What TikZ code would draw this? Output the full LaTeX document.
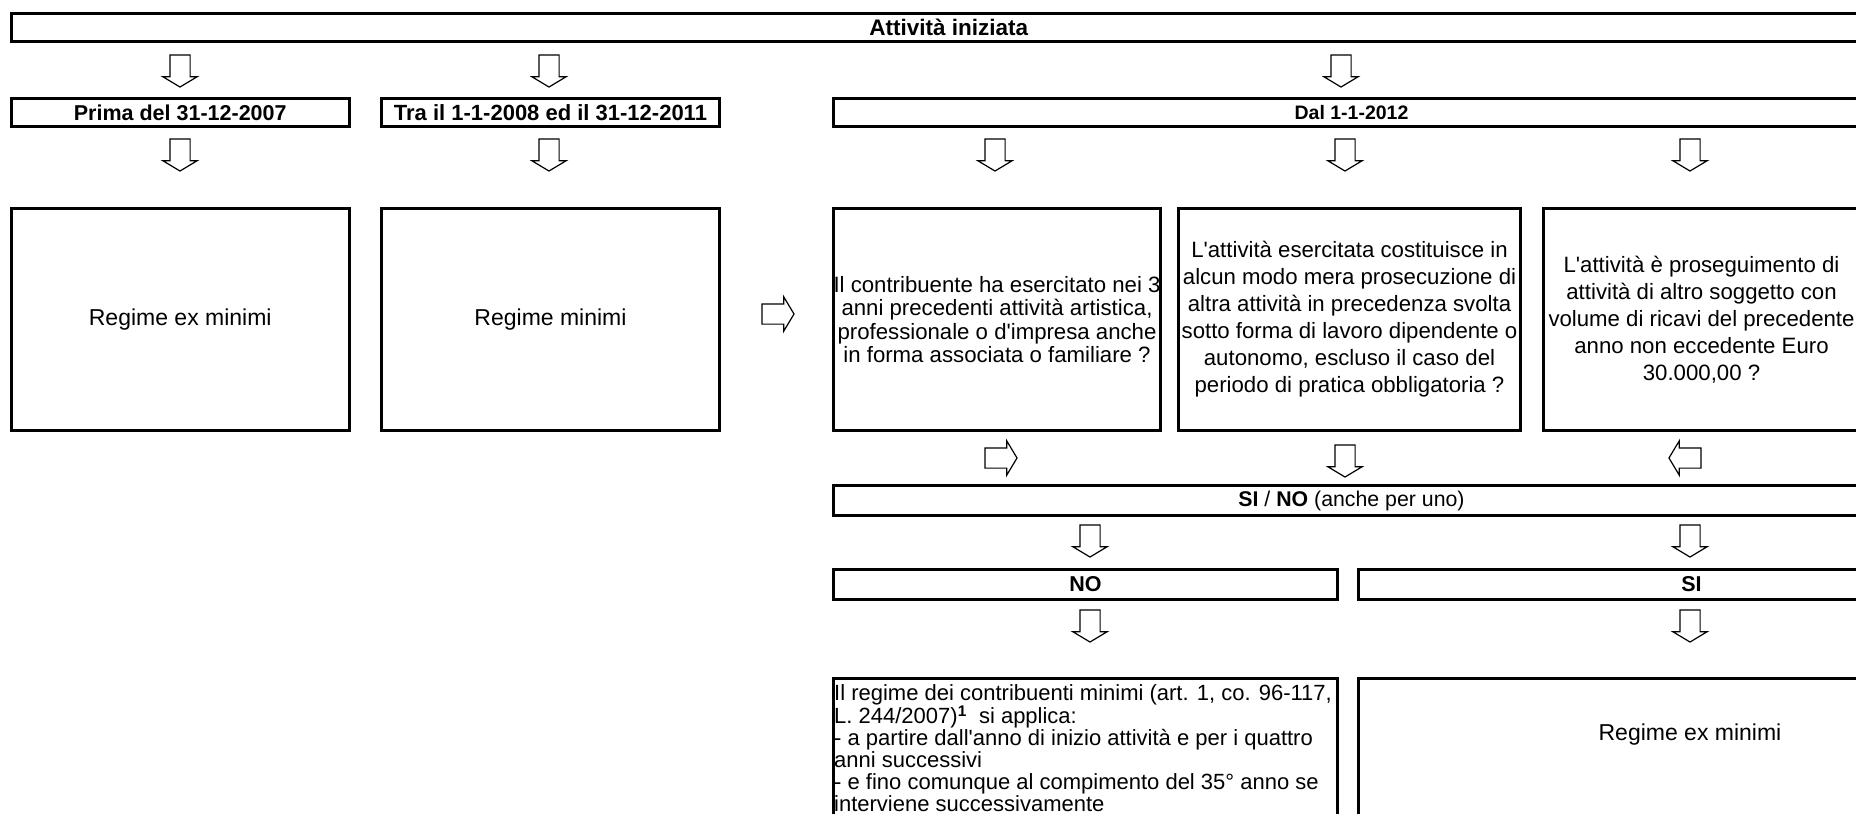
\documentclass[tikz,border=0pt]{standalone}
\usepackage{fontspec}
\setmainfont{Liberation Sans}[Ligatures=TeXOff]
\usetikzlibrary{shapes.arrows}

\newcommand{\fsz}[2]{\fontsize{#1}{#2}\selectfont}

\tikzset{
  box/.style={draw, line width=3pt, inner sep=0pt, anchor=north west, align=center},
  blk/.style={single arrow, draw, line width=1.2pt, inner sep=9.5pt, minimum height=32pt,
    minimum width=33pt, single arrow head extend=7pt, single arrow tip angle=118},
  dnblk/.style={blk, shape border rotate=270},
  rtblk/.style={blk},
  ltblk/.style={blk, shape border rotate=180},
}

\begin{document}
\begin{tikzpicture}[x=1pt, y=-1pt]

\useasboundingbox (0,0) rectangle (1856,814);
\clip (0,0) rectangle (1856,814);

% testata
\node[box, minimum width=1875.5pt, minimum height=28pt, font=\bfseries\fsz{22.5}{27}] (inizio) at (9.5,12) {Attività iniziata};

% periodi
\node[box, minimum width=338.5pt, minimum height=28pt, font=\bfseries\fsz{21.5}{24}] (prima) at (9.5,97) {Prima del 31-12-2007};
\node[box, minimum width=338pt, minimum height=28pt, font=\bfseries\fsz{22}{24}] (tra) at (380,97) {Tra il 1-1-2008 ed il 31-12-2011};
\node[box, minimum width=1036pt, minimum height=28pt, font=\bfseries\fsz{19.5}{24}] (dal) at (832,97) {Dal 1-1-2012};

% regimi e domande
\node[box, minimum width=338.5pt, minimum height=222pt, font=\fsz{23}{27}] (exmin) at (9.5,207) {Regime ex minimi};
\node[box, minimum width=338pt, minimum height=222pt, font=\fsz{23}{27}] (minimi) at (380,207) {Regime minimi};
\node[box, minimum width=326pt, minimum height=222pt, font=\fsz{22.2}{23.5}] (dom1) at (832,207)
  {Il contribuente ha esercitato nei 3\\anni precedenti attività artistica,\\professionale o d'impresa anche\\in forma associata o familiare ?};
\node[box, minimum width=342pt, minimum height=222pt, font=\fsz{22.2}{27}] (dom2) at (1177,207)
  {L'attività esercitata costituisce in\\alcun modo mera prosecuzione di\\altra attività in precedenza svolta\\sotto forma di lavoro dipendente o\\autonomo, escluso il caso del\\periodo di pratica obbligatoria ?};
\node[box, minimum width=316pt, minimum height=222pt, font=\fsz{22.2}{27}] (dom3) at (1542,207)
  {L'attività è proseguimento di\\attività di altro soggetto con\\volume di ricavi del precedente\\anno non eccedente Euro\\30.000,00 ?};

% esito
\node[box, minimum width=1036pt, minimum height=30pt, font=\fsz{21.3}{24}] (sino) at (832,484) {\textbf{SI} / \textbf{NO} (anche per uno)};
\node[box, minimum width=504pt, minimum height=30pt, font=\bfseries\fsz{21.5}{24}] (no) at (832,568) {NO};
\node[box, minimum width=666pt, minimum height=30pt, font=\bfseries\fsz{21.5}{24}] (si) at (1357,568) {SI};

\node[box, minimum width=504pt, minimum height=240pt] (noreg) at (832,677) {};
\node[anchor=north west, inner sep=0pt, align=left, font=\fsz{22}{21.8}] (notxt) at (834,684)
  {Il regime dei contribuenti minimi (art. 1, co. 96-117,\\
   L. 244/2007)\textsuperscript{\textbf{1}}\ \ si applica:\\
   - a partire dall'anno di inizio attività e per i quattro\\
   anni successivi\\
   - e fino comunque al compimento del 35° anno se\\
   interviene successivamente};
\node[box, minimum width=666pt, minimum height=240pt] (sireg) at (1357,677) {};
\node[font=\fsz{23}{27}, inner sep=0pt] (sitxt) at (1690,735) {Regime ex minimi};

% frecce
\node[dnblk] (f1) at (180,68) {};
\node[dnblk] (f2) at (549,68) {};
\node[dnblk] (f3) at (1341,68) {};
\node[dnblk] (g1) at (180,152) {};
\node[dnblk] (g2) at (549,152) {};
\node[dnblk] (g3) at (995,152) {};
\node[dnblk] (g4) at (1345,152) {};
\node[dnblk] (g5) at (1690,152) {};
\node[rtblk] (h0) at (775,314) {};
\node[rtblk] (h1) at (998,458) {};
\node[dnblk] (h2) at (1345,458) {};
\node[ltblk] (h3) at (1688,458) {};
\node[dnblk] (k1) at (1090,538) {};
\node[dnblk] (k2) at (1690,538) {};
\node[dnblk] (m1) at (1090,623) {};
\node[dnblk] (m2) at (1690,623) {};

\end{tikzpicture}
\end{document}
